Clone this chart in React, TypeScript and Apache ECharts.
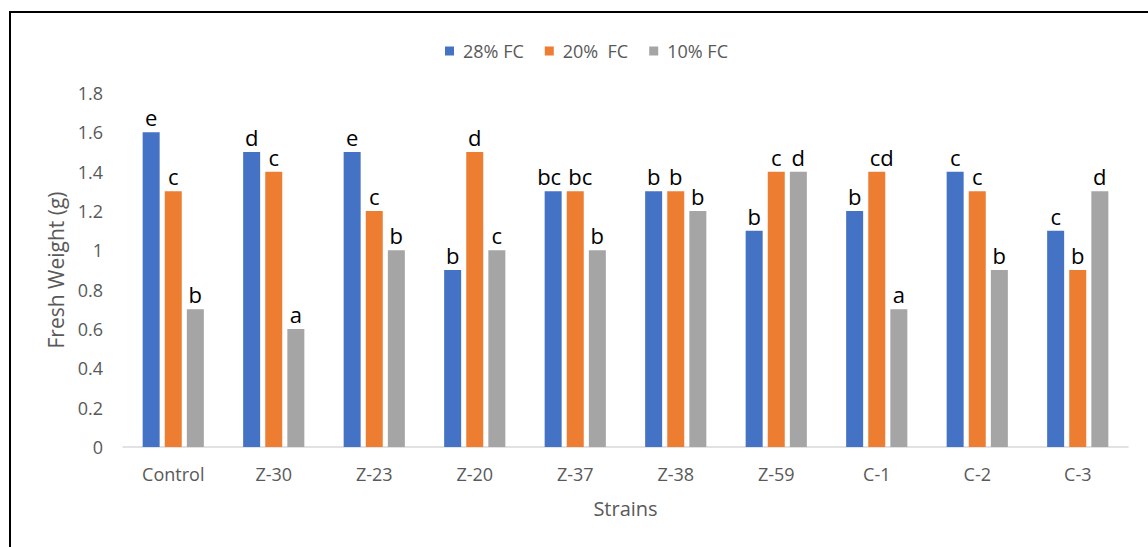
import React, { useEffect, useRef } from "react";
import * as echarts from "echarts";

const categories = ["Control", "Z-30", "Z-23", "Z-20", "Z-37", "Z-38", "Z-59", "C-1", "C-2", "C-3"];
const seriesNames = ["28% FC", "20%  FC", "10% FC"];
const fc28 = [1.6, 1.5, 1.5, 0.9, 1.3, 1.3, 1.1, 1.2, 1.4, 1.1];
const fc20 = [1.3, 1.4, 1.2, 1.5, 1.3, 1.3, 1.4, 1.4, 1.3, 0.9];
const fc10 = [0.7, 0.6, 1.0, 1.0, 1.0, 1.2, 1.4, 0.7, 0.9, 1.3];
const letters28 = ["e", "d", "e", "b", "bc", "b", "b", "b", "c", "c"];
const letters20 = ["c", "c", "c", "d", "bc", "b", "c", "cd", "c", "b"];
const letters10 = ["b", "a", "b", "c", "b", "b", "d", "a", "b", "d"];
const colors = ["#4472C4", "#ED7D31", "#A5A5A5"];

const FONT = "'Open Sans', sans-serif";

export default function App() {
  const ref = useRef<HTMLDivElement>(null);
  useEffect(() => {
    if (!ref.current) return;
    const chart = echarts.init(ref.current, null, { renderer: "svg" });
    const values = [fc28, fc20, fc10];
    const letters = [letters28, letters20, letters10];
    const wideShift = [-4, 5, 0];
    chart.setOption({
      animation: false,
      backgroundColor: "#fff",
      textStyle: { fontFamily: FONT },
      graphic: [
        {
          type: "rect",
          shape: { x: 10, y: 12, width: 1150, height: 560 },
          style: { fill: "none", stroke: "#000", lineWidth: 2 },
          silent: true,
        },
      ],
      legend: {
        top: 37,
        left: 440,
        itemWidth: 9,
        itemHeight: 9,
        itemGap: 21,
        icon: "rect",
        textStyle: { fontSize: 18, color: "#595959", fontFamily: FONT, padding: [0, 0, 0, 4] },
        data: seriesNames,
      },
      grid: { left: 123, right: 20, top: 93, bottom: 100 },
      xAxis: {
        type: "category",
        data: categories,
        axisLine: { lineStyle: { color: "#D9D9D9", width: 1.5 } },
        axisTick: { show: false },
        axisLabel: { color: "#595959", fontSize: 18, margin: 18, fontFamily: FONT },
        name: "Strains",
        nameLocation: "middle",
        nameGap: 51,
        nameTextStyle: { color: "#595959", fontSize: 20, fontFamily: FONT },
      },
      yAxis: {
        type: "value",
        min: 0,
        max: 1.8,
        interval: 0.2,
        splitLine: { show: false },
        axisLine: { show: false },
        axisTick: { show: false },
        axisLabel: {
          color: "#595959",
          fontSize: 18,
          margin: 20,
          fontFamily: FONT,
          formatter: (v: number) => String(Math.round(v * 10) / 10),
        },
        name: "Fresh Weight (g)",
        nameLocation: "middle",
        nameGap: 54,
        nameTextStyle: { color: "#595959", fontSize: 21, fontFamily: FONT },
      },
      series: seriesNames.map((name, i) => ({
        name,
        type: "bar",
        barWidth: 17,
        barGap: "30%",
        itemStyle: { color: colors[i] },
        data: values[i].map((v, j) =>
          letters[i][j].length > 1
            ? { value: v, label: { offset: [wideShift[i], 0] } }
            : v
        ),
        label: {
          show: true,
          position: "top",
          distance: 4,
          color: "#000",
          fontSize: 22,
          fontFamily: FONT,
          formatter: (p: any) => letters[i][p.dataIndex],
        },
      })),
    });
    return () => chart.dispose();
  }, []);
  return (
    <div
      ref={ref}
      style={{ position: "fixed", left: 0, top: 0, width: 1148, height: 547 }}
    />
  );
}
